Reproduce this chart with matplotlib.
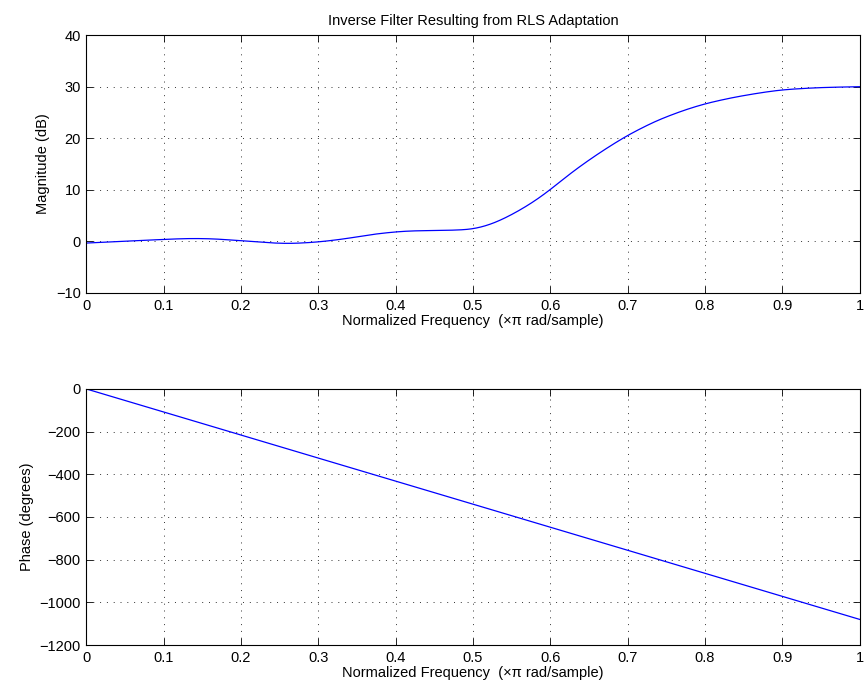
import numpy as np
import matplotlib
matplotlib.use("Agg")
from matplotlib import pyplot as plt

# magnitude response (normalized freq, dB)
freq_mag = [0.0, 0.047, 0.1, 0.133, 0.164, 0.2, 0.233, 0.263, 0.3, 0.336, 0.366,
            0.4, 0.422, 0.465, 0.5, 0.526, 0.552, 0.578, 0.6, 0.625, 0.651, 0.672,
            0.7, 0.737, 0.772, 0.8, 0.836, 0.871, 0.9, 0.945, 1.0]
mag_db = [-0.32, 0.0, 0.39, 0.58, 0.52, 0.13, -0.26, -0.45, -0.13, 0.52, 1.3,
          1.87, 2.06, 2.13, 2.3, 3.4, 5.3, 7.6, 10.0, 13.1, 15.9, 18.0,
          20.6, 23.4, 25.4, 26.7, 27.9, 28.8, 29.4, 29.8, 30.0]

# phase response (linear)
freq_ph = [0.0, 0.5, 1.0]
phase_deg = [0.0, -540.0, -1080.0]

xticks = [0, 0.1, 0.2, 0.3, 0.4, 0.5, 0.6, 0.7, 0.8, 0.9, 1]
xticklabels = ["0", "0.1", "0.2", "0.3", "0.4", "0.5", "0.6", "0.7", "0.8", "0.9", "1"]


def smooth_curve(x, y, xs, sigma=0.012):
    # linear through the read points, then a light gaussian blur to remove reading jitter
    yl = np.interp(xs, x, y)
    dx = xs[1] - xs[0]
    n = int(4 * sigma / dx)
    k = np.exp(-0.5 * (np.arange(-n, n + 1) * dx / sigma) ** 2)
    k /= k.sum()
    left = 2 * yl[0] - yl[n:0:-1]
    right = np.full(n, yl[-1])
    padded = np.concatenate([left, yl, right])
    return np.convolve(padded, k, mode="valid")


plt.rcParams["font.family"] = ["Liberation Sans", "DejaVu Sans"]
plt.rcParams["font.size"] = 10.5

fig = plt.figure(figsize=(8.64, 6.92), dpi=100)
ax1 = fig.add_axes([0.100, 0.5766, 0.895, 0.3728])
ax2 = fig.add_axes([0.100, 0.0679, 0.895, 0.3700])

xs = np.linspace(0, 1, 1001)
ys = smooth_curve(freq_mag, mag_db, xs)

ax1.plot(xs, ys, color="#0000ff", lw=0.9)
ax1.set_xlim(0, 1)
ax1.set_ylim(-10, 40)
ax1.set_yticks([-10, 0, 10, 20, 30, 40])
ax1.set_yticklabels(["\u221210", "0", "10", "20", "30", "40"])
ax1.set_ylabel("Magnitude (dB)")
ax1.set_title("Inverse Filter Resulting from RLS Adaptation", fontsize=10.5, pad=7)

ax2.plot(freq_ph, phase_deg, color="#0000ff", lw=0.9)
ax2.set_xlim(0, 1)
ax2.set_ylim(-1200, 0)
yt = [-1200, -1000, -800, -600, -400, -200, 0]
ax2.set_yticks(yt)
ax2.set_yticklabels([str(v).replace("-", "\u2212") for v in yt])
ax2.set_ylabel("Phase (degrees)")

for ax in (ax1, ax2):
    ax.set_xticks(xticks)
    ax.set_xticklabels(xticklabels)
    ax.set_xlabel("Normalized Frequency  (\u00d7\u03c0 rad/sample)", labelpad=1)
    ax.grid(True, color="#333333", linestyle=(0, (1, 6)), linewidth=0.7)
    ax.tick_params(direction="in", top=True, right=True, length=5, width=0.6, pad=4)
    for s in ax.spines.values():
        s.set_linewidth(0.8)

fig.savefig("out.png", dpi=100)
